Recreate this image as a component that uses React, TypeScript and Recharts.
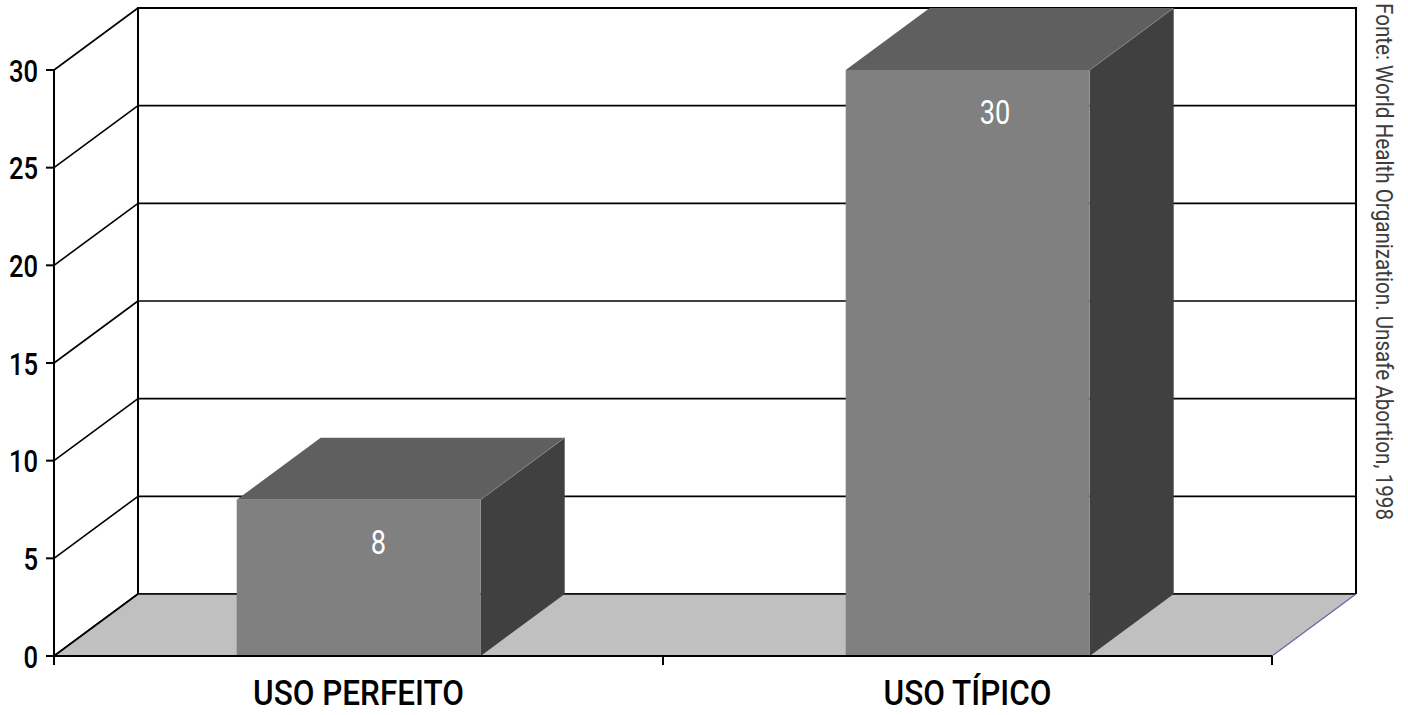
import React from 'react';
import { BarChart, Bar, XAxis, YAxis, CartesianGrid, ReferenceArea } from 'recharts';

// Categories, values and axis ticks
const categories = ['USO PERFEITO', 'USO TÍPICO'];
const values = [8, 30];
const yTicks = [0, 5, 10, 15, 20, 25, 30];
const sourceNote = 'Fonte: World Health Organization. Unsafe Abortion, 1998';

const data = categories.map((name, i) => ({ name, value: values[i] }));

// Oblique depth of the 3D box (pixels to the right / upwards)
const DX = 84;
const DY = 62;
const FONT = 'Roboto, "DejaVu Sans Condensed", Arial, sans-serif';

// Condensed-looking text: a horizontally squeezed glyph run anchored at (x, y)
const Squeezed = ({ x, y, sx, anchor, children, ...rest }: any) => (
  <text transform={`translate(${x}, ${y}) scale(${sx}, 1)`} x={0} y={0} textAnchor={anchor} {...rest}>
    {children}
  </text>
);

const YTick = (props: any) => {
  const { x, y, payload } = props;
  return (
    <Squeezed x={x} y={y} sx={0.8} anchor="end" dy="0.36em" fill="#000" fontFamily={FONT} fontWeight={500} fontSize={32}>
      {payload.value}
    </Squeezed>
  );
};

const XTick = (props: any) => {
  const { x, y, payload } = props;
  return (
    <Squeezed x={x} y={y} sx={0.9} anchor="middle" dy="0.72em" fill="#000" fontFamily={FONT} fontWeight={500} fontSize={35}>
      {payload.value}
    </Squeezed>
  );
};

// One horizontal gridline: side-wall diagonal plus the back-wall rule
const GridLine = (props: any) => {
  const { x1, y1, x2, index } = props;
  const top = index === yTicks.length - 1 || y1 <= props.y + 1;
  return (
    <g key={`gl-${index}-${y1}`}>
      <line x1={x1} y1={y1} x2={x1 + DX} y2={y1 - DY} stroke="#000" strokeWidth={1.6} />
      <line x1={x1 + DX} y1={y1 - DY} x2={x2 + DX} y2={y1 - DY} stroke="#000" strokeWidth={top ? 2.2 : 1.6} />
    </g>
  );
};

// Floor, back-wall frame, category boundary ticks and the source note
const Room = (props: any) => {
  const { x, y, width: w, height: h } = props;
  const by = y + h;
  return (
    <g>
      <polygon
        points={`${x},${by} ${x + DX},${by - DY} ${x + w + DX},${by - DY} ${x + w},${by}`}
        fill="#C0C0C0"
      />
      <line x1={x} y1={by} x2={x + DX} y2={by - DY} stroke="#000" strokeWidth={1.6} />
      <line x1={x + DX} y1={by - DY} x2={x + w + DX} y2={by - DY} stroke="#000" strokeWidth={1.6} />
      <line x1={x + w} y1={by} x2={x + w + DX} y2={by - DY} stroke="#6a6aa6" strokeWidth={1.4} />
      <line x1={x + DX} y1={y - DY - 1} x2={x + DX} y2={by - DY} stroke="#000" strokeWidth={2} />
      <line x1={x + w + DX} y1={y - DY - 1} x2={x + w + DX} y2={by - DY} stroke="#000" strokeWidth={2} />
      {[0, 0.5, 1].map((f) => (
        <line key={f} x1={x + w * f} y1={by} x2={x + w * f} y2={by + 9} stroke="#000" strokeWidth={2} />
      ))}
      <text
        x={0}
        y={0}
        transform={`translate(${x + w + 104}, 3) rotate(90)`}
        fill="#3c3c3c"
        fontFamily={FONT}
        fontSize={24}
        textLength={517}
        lengthAdjust="spacingAndGlyphs"
      >
        {sourceNote}
      </text>
    </g>
  );
};

// 3D box: front face, top face, right side face and the value label
const Box3D = (props: any) => {
  const { x, y, width, height, payload } = props;
  const r = x + width;
  const b = y + height;
  return (
    <g>
      <polygon points={`${x},${y} ${x + DX},${y - DY} ${r + DX},${y - DY} ${r},${y}`} fill="#5f5f5f" />
      <polygon points={`${r},${y} ${r + DX},${y - DY} ${r + DX},${b - DY} ${r},${b}`} fill="#404040" />
      <line x1={r} y1={y} x2={r + DX} y2={y - DY} stroke="#8a8a8a" strokeWidth={0.8} />
      <rect x={x} y={y} width={width} height={height} fill="#808080" />
      <Squeezed
        x={x + width / 2 + 12}
        y={y + 42}
        sx={0.8}
        anchor="start"
        dy="0.36em"
        fill="#fff"
        fontFamily={FONT}
        fontSize={34}
      >
        {payload.value}
      </Squeezed>
    </g>
  );
};

export default function App() {
  return (
    <div style={{ position: 'absolute', left: 0, top: 0, width: 1408, height: 715, background: '#fff' }}>
      <BarChart
        width={1408}
        height={715}
        data={data}
        margin={{ top: 70, right: 136, bottom: 0, left: 0 }}
        barCategoryGap="30%"
      >
        <ReferenceArea y1={0} y2={30} shape={<Room />} ifOverflow="visible" />
        <CartesianGrid vertical={false} horizontal={GridLine} />
        <YAxis
          width={54}
          domain={[0, 30]}
          ticks={yTicks}
          interval={0}
          tickSize={8}
          tickMargin={8}
          axisLine={{ stroke: '#000', strokeWidth: 2 }}
          tickLine={{ stroke: '#000', strokeWidth: 2 }}
          tick={<YTick />}
        />
        <XAxis
          dataKey="name"
          height={59}
          tickLine={false}
          tickSize={8}
          tickMargin={16}
          axisLine={{ stroke: '#000', strokeWidth: 2 }}
          tick={<XTick />}
        />
        <Bar dataKey="value" shape={<Box3D />} isAnimationActive={false} />
      </BarChart>
    </div>
  );
}
